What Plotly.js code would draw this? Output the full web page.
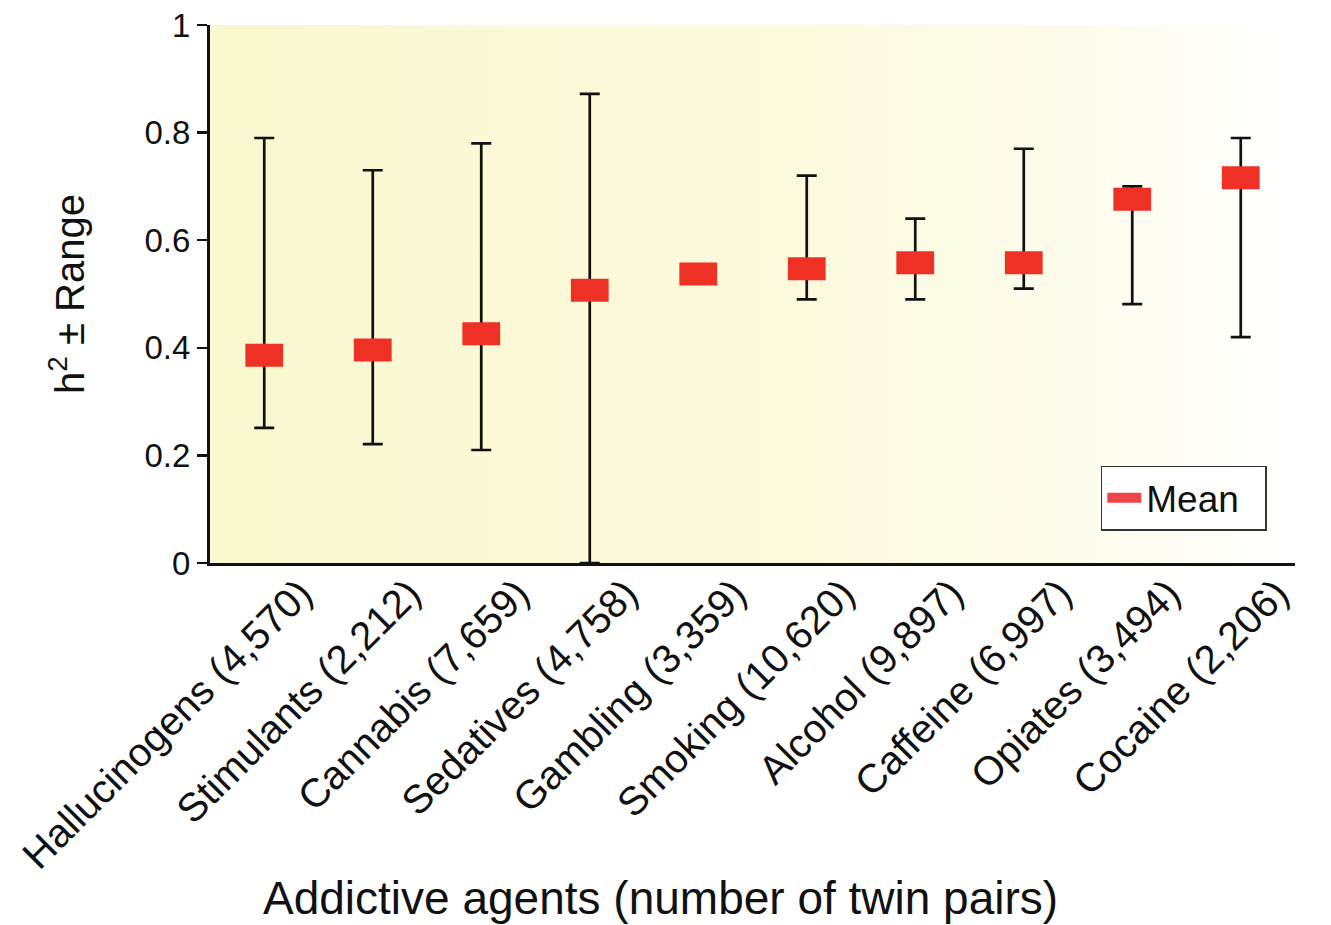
<!DOCTYPE html>
<html>
<head>
<meta charset="utf-8">
<script src="https://cdn.plot.ly/plotly-3.0.1.min.js"></script>
<style>html,body{margin:0;padding:0;background:#fff;}#chart{width:1331px;height:925px;}</style>
</head>
<body>
<div id="chart"></div>
<script>
// Data
const categories = ["Hallucinogens (4,570)", "Stimulants (2,212)", "Cannabis (7,659)", "Sedatives (4,758)", "Gambling (3,359)", "Smoking (10,620)", "Alcohol (9,897)", "Caffeine (6,997)", "Opiates (3,494)", "Cocaine (2,206)"];
const meanValues = [0.386, 0.396, 0.426, 0.507, 0.537, 0.547, 0.558, 0.558, 0.676, 0.716];
const rangeHigh = [0.79, 0.73, 0.78, 0.872, null, 0.72, 0.64, 0.77, 0.70, 0.79];
const rangeLow  = [0.251, 0.221, 0.21, 0.0, null, 0.49, 0.49, 0.51, 0.481, 0.42];
const yTickValues = [0, 0.2, 0.4, 0.6, 0.8, 1];
const yTickLabels = ["0", "0.2", "0.4", "0.6", "0.8", "1"];
const xTitle = "Addictive agents (number of twin pairs)";
const yTitle = "h<sup>2</sup> ± Range";
const legendLabel = "Mean";

const errPlus = meanValues.map((m, i) => rangeHigh[i] === null ? null : rangeHigh[i] - m);
const errMinus = meanValues.map((m, i) => rangeLow[i] === null ? null : m - rangeLow[i]);

const FONT = "Liberation Sans, Arial, Helvetica, sans-serif";
const RED = "#ee3124";

const gradSvg = '<svg xmlns="http://www.w3.org/2000/svg" width="100" height="100" preserveAspectRatio="none">' +
  '<defs><linearGradient id="g" x1="0" y1="0" x2="1" y2="0">' +
  '<stop offset="0" stop-color="#faf8d0"/><stop offset="0.5" stop-color="#fcfadb"/>' +
  '<stop offset="0.8" stop-color="#fdfcec"/><stop offset="1" stop-color="#ffffff"/>' +
  '</linearGradient></defs><rect width="100" height="100" fill="url(#g)"/></svg>';
const gradUrl = "data:image/svg+xml;charset=utf-8," + encodeURIComponent(gradSvg);

const rangeTrace = {
  type: "scatter",
  mode: "markers",
  x: categories,
  y: meanValues,
  marker: {size: 1, color: "rgba(0,0,0,0)"},
  error_y: {
    type: "data",
    symmetric: false,
    array: errPlus,
    arrayminus: errMinus,
    color: "#111111",
    thickness: 2.7,
    width: 10
  },
  showlegend: false,
  hoverinfo: "skip"
};

const meanTrace = {
  type: "scatter",
  mode: "markers",
  name: legendLabel,
  legendgroup: "mean",
  showlegend: false,
  x: categories,
  y: meanValues,
  marker: {
    symbol: "line-ew",
    size: 27,
    color: RED,
    line: {color: RED, width: 23}
  }
};

// legend entry for the mean markers (wide swatch like the reference)
const meanLegend = {
  type: "scatter",
  mode: "lines",
  name: legendLabel + "\u00a0\u00a0",
  legendgroup: "mean",
  x: [null],
  y: [null],
  line: {color: "#ee4646", width: 10},
  hoverinfo: "skip"
};

const layout = {
  width: 1331,
  height: 925,
  margin: {l: 210, r: 36, t: 25, b: 362},
  paper_bgcolor: "#ffffff",
  plot_bgcolor: "rgba(0,0,0,0)",
  font: {family: FONT, color: "#111111"},
  images: [{
    source: gradUrl,
    xref: "paper", yref: "paper",
    x: 0, y: 1, sizex: 1, sizey: 1,
    xanchor: "left", yanchor: "top",
    sizing: "stretch",
    layer: "below"
  }],
  xaxis: {
    type: "category",
    range: [-0.5, 9.5],
    showline: true,
    linecolor: "#111111",
    linewidth: 3,
    ticks: "",
    showgrid: false,
    zeroline: false,
    tickangle: -45,
    ticklabelshift: 36,
    ticklabelstandoff: -12,
    tickfont: {family: FONT, size: 40, color: "#111111"},
    automargin: false
  },
  yaxis: {
    range: [0, 1],
    tickvals: yTickValues,
    ticktext: yTickLabels,
    showline: true,
    linecolor: "#111111",
    linewidth: 3,
    ticks: "outside",
    ticklen: 10,
    tickwidth: 2.5,
    tickcolor: "#111111",
    showgrid: false,
    zeroline: false,
    tickfont: {family: FONT, size: 33, color: "#111111"},
    title: {text: yTitle, font: {family: FONT, size: 40, color: "#111111"}, standoff: 48},
    automargin: false
  },
  annotations: [{
    text: xTitle,
    xref: "paper", yref: "paper",
    x: 0.415, y: -0.623,
    xanchor: "center", yanchor: "middle",
    showarrow: false,
    font: {family: FONT, size: 46, color: "#111111"}
  }],
  legend: {
    x: 0.821, xanchor: "left",
    y: 0.06, yanchor: "bottom",
    bgcolor: "#ffffff",
    bordercolor: "#333333",
    borderwidth: 1.5,
    itemwidth: 34,
    font: {family: FONT, size: 37, color: "#111111"}
  },
  showlegend: true
};

Plotly.newPlot("chart", [rangeTrace, meanTrace, meanLegend], layout, {staticPlot: true, displayModeBar: false});
</script>
</body>
</html>
